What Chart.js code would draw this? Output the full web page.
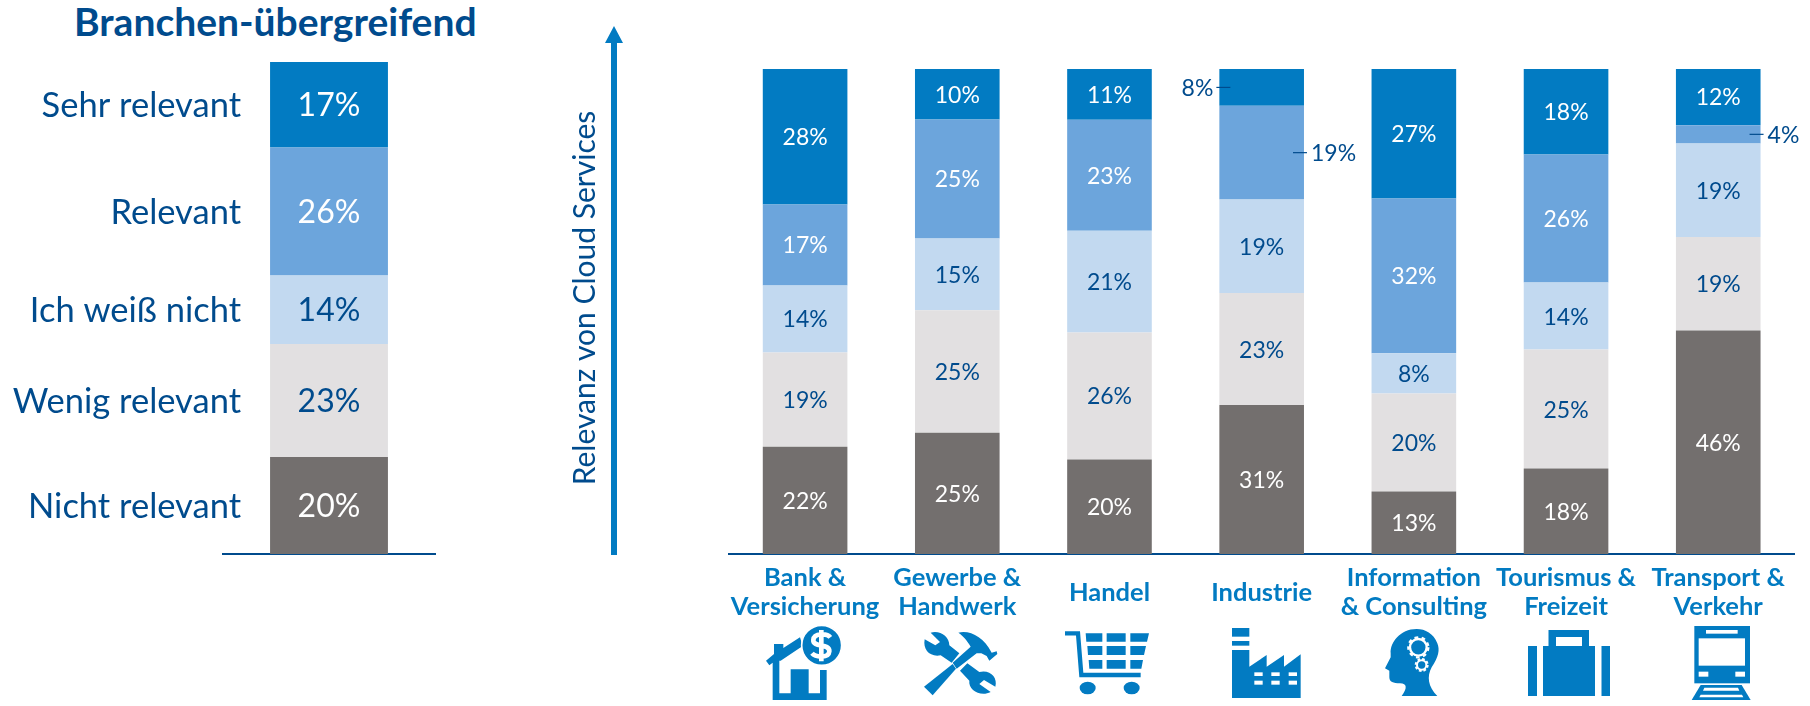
<!DOCTYPE html>
<html lang="de">
<head>
<meta charset="utf-8">
<title>Relevanz von Cloud Services</title>
<script src="https://cdn.jsdelivr.net/npm/chart.js@4"></script>
<style>
html,body{margin:0;padding:0;background:#fff;width:1810px;height:706px;overflow:hidden}
#stage{position:relative;width:1810px;height:706px}
canvas{position:absolute;left:0;top:0}
svg{position:absolute;overflow:visible}
h1{position:absolute;margin:0;left:74px;top:-1px;font:bold 39px Lato,sans-serif;line-height:44px;color:#004B8D;white-space:nowrap}
</style>
</head>
<body>
<div id="stage">
<h1 id="title">Branchen-übergreifend</h1>
<canvas id="left" width="640" height="706"></canvas>
<canvas id="right" width="1810" height="706" style="pointer-events:none"></canvas>

<svg style="left:600px;top:20px" width="30" height="540" viewBox="600 20 30 540">
  <path fill="#027BC2" d="M614 26 L623 43 L617 43 L617 555 L611 555 L611 43 L605 43 Z"/>
</svg>

<!-- Bank & Versicherung -->
<svg style="left:750px;top:620px" width="120" height="86" viewBox="0 0 360 258">
  <g fill="#027BC2">
    <path d="M48 122 L72 102 L72 72 L100 72 L100 84 L150 52 L158 78 L92 122 L88 122 L88 220 L122 220 L122 148 L176 148 L176 220 L210 220 L210 150 L230 150 L230 240 L68 240 L68 128 L58 136 Z"/>
    <circle cx="215" cy="76" r="60" stroke="#fff" stroke-width="5"/>
  </g>
  <path d="M241 52 C232 40 192 38 190 60 C188 84 240 68 238 94 C236 116 196 112 186 100 M214 30 L214 124" fill="none" stroke="#fff" stroke-width="14"/>
</svg>

<!-- Gewerbe & Handwerk -->
<svg style="left:910px;top:620px" width="120" height="86" viewBox="0 0 360 258">
  <g fill="#027BC2">
    <path d="M62 38 C90 30 118 50 118 76 L148 100 L125 128 L92 106 C60 112 38 90 44 58 L76 76 L90 66 Z"/>
    <path d="M172 130 L208 156 C240 148 264 172 256 200 L222 180 L208 192 L242 216 C212 232 174 210 178 182 L150 152 Z"/>
    <path d="M42 200 L128 132 L138 146 L68 226 Z"/>
    <path d="M128 128 L182 80 C170 60 160 48 145 38 C180 30 220 50 245 98 L260 94 L262 102 L238 122 L230 108 L214 100 L200 100 L140 146 Z"/>
  </g>
</svg>

<!-- Handel -->
<svg style="left:1050px;top:620px" width="120" height="86" viewBox="0 0 360 258">
  <path d="M45 40 L84 40 L94 165 L272 165" fill="none" stroke="#027BC2" stroke-width="13"/>
  <g fill="#027BC2">
    <path d="M107 40 H157 V65 H109 Z M170 40 H227 V65 H170 Z M241 40 H297 L291 65 H241 Z"/>
    <path d="M112 78 H157 V105 H114 Z M170 78 H227 V105 H170 Z M241 78 H288 L282 105 H241 Z"/>
    <path d="M116 120 H157 V146 H118 Z M170 120 H227 V146 H170 Z M241 120 H279 L274 146 H241 Z"/>
    <ellipse cx="113" cy="204" rx="24" ry="19"/>
    <ellipse cx="245" cy="204" rx="24" ry="19"/>
  </g>
</svg>

<!-- Industrie -->
<svg style="left:1210px;top:620px" width="120" height="86" viewBox="0 0 360 258">
  <g fill="#027BC2">
    <rect x="66" y="24" width="52" height="26"/>
    <rect x="66" y="63" width="52" height="14"/>
    <path d="M66 90 H118 V140 L170 105 V140 L222 105 V140 L272 103 V234 H66 Z"/>
  </g>
  <g fill="#fff">
    <rect x="133" y="157" width="25" height="11"/><rect x="184" y="157" width="25" height="11"/><rect x="236" y="157" width="25" height="11"/>
    <rect x="133" y="182" width="25" height="12"/><rect x="184" y="182" width="25" height="12"/><rect x="236" y="182" width="25" height="12"/>
  </g>
</svg>

<!-- Information & Consulting -->
<svg style="left:1360px;top:620px" width="120" height="86" viewBox="0 0 360 258">
  <path fill="#027BC2" d="M170 27 C120 27 90 68 92 100 L92 112 L75 145 L88 152 L88 172 C88 186 100 190 120 190 C142 190 142 206 125 228 L232 228 C204 200 200 170 215 142 C236 110 240 90 232 70 C220 40 196 27 170 27 Z"/>
  <g fill="none" stroke="#fff">
    <circle cx="175" cy="82" r="25" stroke-width="7"/>
    <circle cx="175" cy="82" r="30" stroke-width="7" stroke-dasharray="11 10.5"/>
    <circle cx="185" cy="135" r="14" stroke-width="6"/>
    <circle cx="185" cy="135" r="18" stroke-width="6" stroke-dasharray="8 6"/>
  </g>
</svg>

<!-- Tourismus & Freizeit -->
<svg style="left:1510px;top:620px" width="120" height="86" viewBox="0 0 120 86">
  <path fill="#027BC2" d="M18 26 H27 V76 H18 Z M91.500 26 H100 V76 H91.500 Z M33 26 H38.500 V10 H79 V26 H85 V76 H33 Z"/>
  <rect x="46" y="17" width="26" height="9" fill="#fff"/>
</svg>

<!-- Transport & Verkehr -->
<svg style="left:1660px;top:620px" width="120" height="86" viewBox="0 0 360 258">
  <rect x="103" y="18" width="167" height="172" fill="#027BC2"/>
  <g fill="#fff">
    <rect x="138" y="30" width="95" height="11"/>
    <rect x="116" y="55" width="139" height="82"/>
    <rect x="116" y="155" width="29" height="15"/>
    <rect x="226" y="155" width="29" height="15"/>
  </g>
  <path fill="#027BC2" d="M122 195 H245 L272 240 H95 Z"/>
  <path fill="#fff" d="M133 203 H234 L238 212 H129 Z M122 224 H246 L250 232 H118 Z"/>
</svg>
</div>

<script>
// Reihenfolge im Stapel: von unten nach oben
const segmentNames = ['Nicht relevant', 'Wenig relevant', 'Ich weiß nicht', 'Relevant', 'Sehr relevant'];
const segmentColors = ['#736F6E', '#E2E0E1', '#C2D9F0', '#6CA5DC', '#027BC2'];
const labelColors = ['#FFFFFF', '#004B8D', '#004B8D', '#FFFFFF', '#FFFFFF'];

const overallCategory = ['Alle'];
const overallNicht = [19.7];
const overallWenig = [23.0];
const overallWeiss = [13.9];
const overallRelevant = [26.0];
const overallSehr = [17.4];

// Einzelne Branchen
const industries = [
  ['Bank &', 'Versicherung'],
  ['Gewerbe &', 'Handwerk'],
  ['Handel'],
  ['Industrie'],
  ['Information', '& Consulting'],
  ['Tourismus &', 'Freizeit'],
  ['Transport &', 'Verkehr']
];
const nichtRelevant = [22.1, 25.0, 19.5, 30.7, 12.9, 17.6, 46.2];
const wenigRelevant = [19.4, 25.2, 26.2, 23.1, 20.2, 24.5, 19.3];
const weissNicht    = [13.8, 14.8, 21.0, 19.3,  8.3, 13.8, 19.3];
const relevant      = [16.7, 24.5, 22.9, 19.3, 31.9, 26.4,  3.8];
const sehrRelevant  = [27.9, 10.4, 10.5,  7.6, 26.7, 17.6, 11.6];

const yAxisTitle = 'Relevanz von Cloud Services';
const FONT = 'Lato, sans-serif';
const NAVY = '#004B8D';
const BLUE = '#027BC2';

// Außenliegende Beschriftungen: [Segment, Branche, Seite]
const outsideLabels = [[4, 3, 'left'], [3, 3, 'right'], [3, 6, 'right']];

function buildDatasets(columns) {
  const totals = columns[0].map((_, i) => columns.reduce((s, c) => s + c[i], 0));
  return columns.map((col, k) => ({
    label: segmentNames[k],
    data: col.map((v, i) => v / totals[i] * 100),
    shown: col.map(v => Math.round(v)),
    backgroundColor: segmentColors[k],
    borderWidth: 0,
    barPercentage: 0.556,
    categoryPercentage: 1
  }));
}

const percentLabels = (fontPx, withSideNames) => ({
  id: 'percentLabels',
  afterDatasetsDraw(chart) {
    const ctx = chart.ctx;
    ctx.save();
    ctx.textBaseline = 'middle';
    chart.data.datasets.forEach((ds, k) => {
      const meta = chart.getDatasetMeta(k);
      meta.data.forEach((bar, i) => {
        const cy = (bar.y + bar.base) / 2;
        const half = bar.width / 2;
        const text = ds.shown[i] + '%';
        ctx.font = fontPx + 'px ' + FONT;
        const side = outsideLabels.find(o => !withSideNames && o[0] === k && o[1] === i);
        if (side) {
          const leftSide = side[2] === 'left';
          const edge = bar.x + (leftSide ? -half : half);
          const inner = edge + (leftSide ? 11 : -11);
          const outer = edge + (leftSide ? -3 : 3);
          ctx.strokeStyle = NAVY;
          ctx.lineWidth = 1.2;
          ctx.beginPath();
          ctx.moveTo(inner, cy);
          ctx.lineTo(outer, cy);
          ctx.stroke();
          ctx.fillStyle = NAVY;
          ctx.textAlign = leftSide ? 'right' : 'left';
          ctx.fillText(text, outer + (leftSide ? -3 : 4), cy + 1);
        } else {
          ctx.fillStyle = labelColors[k];
          ctx.textAlign = 'center';
          ctx.fillText(text, bar.x, cy + 1);
        }
        if (withSideNames) {
          ctx.fillStyle = NAVY;
          ctx.textAlign = 'right';
          ctx.font = '34.500px ' + FONT;
          ctx.fillText(ds.label, bar.x - half - 29, cy + 1);
        }
      });
    });
    ctx.restore();
  }
});

const sideTitle = {
  id: 'sideTitle',
  afterDraw(chart) {
    const ctx = chart.ctx;
    ctx.save();
    ctx.translate(585, 298);
    ctx.rotate(-Math.PI / 2);
    ctx.fillStyle = NAVY;
    ctx.font = '30px ' + FONT;
    ctx.textAlign = 'center';
    ctx.textBaseline = 'middle';
    ctx.fillText(yAxisTitle, 0, 0);
    ctx.restore();
  }
};

function chartOptions(padLeft, padRight, padTop, showTicks) {
  return {
    responsive: false,
    animation: false,
    layout: { padding: { left: padLeft, right: padRight, top: padTop, bottom: 0 } },
    plugins: { legend: { display: false }, tooltip: { enabled: false } },
    scales: {
      x: {
        stacked: true,
        afterFit(scale) { scale.height = 706 - 554; },
        border: { display: true, color: NAVY, width: 2 },
        grid: { display: false, drawTicks: false },
        ticks: {
          display: showTicks,
          autoSkip: false,
          maxRotation: 0,
          minRotation: 0,
          padding: 24,
          crossAlign: 'center',
          color: BLUE,
          font: { family: FONT, weight: 'bold', size: 25.5, lineHeight: 1.14 }
        }
      },
      y: { stacked: true, display: false, min: 0, max: 100 }
    }
  };
}

new Chart(document.getElementById('left'), {
  type: 'bar',
  data: {
    labels: overallCategory,
    datasets: buildDatasets([overallNicht, overallWenig, overallWeiss, overallRelevant, overallSehr])
  },
  options: chartOptions(223, 205, 62, false),
  plugins: [percentLabels(32, true)]
});

new Chart(document.getElementById('right'), {
  type: 'bar',
  data: {
    labels: industries,
    datasets: buildDatasets([nichtRelevant, wenigRelevant, weissNicht, relevant, sehrRelevant])
  },
  options: chartOptions(729, 15, 69, true),
  plugins: [percentLabels(23, false), sideTitle]
});
</script>
</body>
</html>
